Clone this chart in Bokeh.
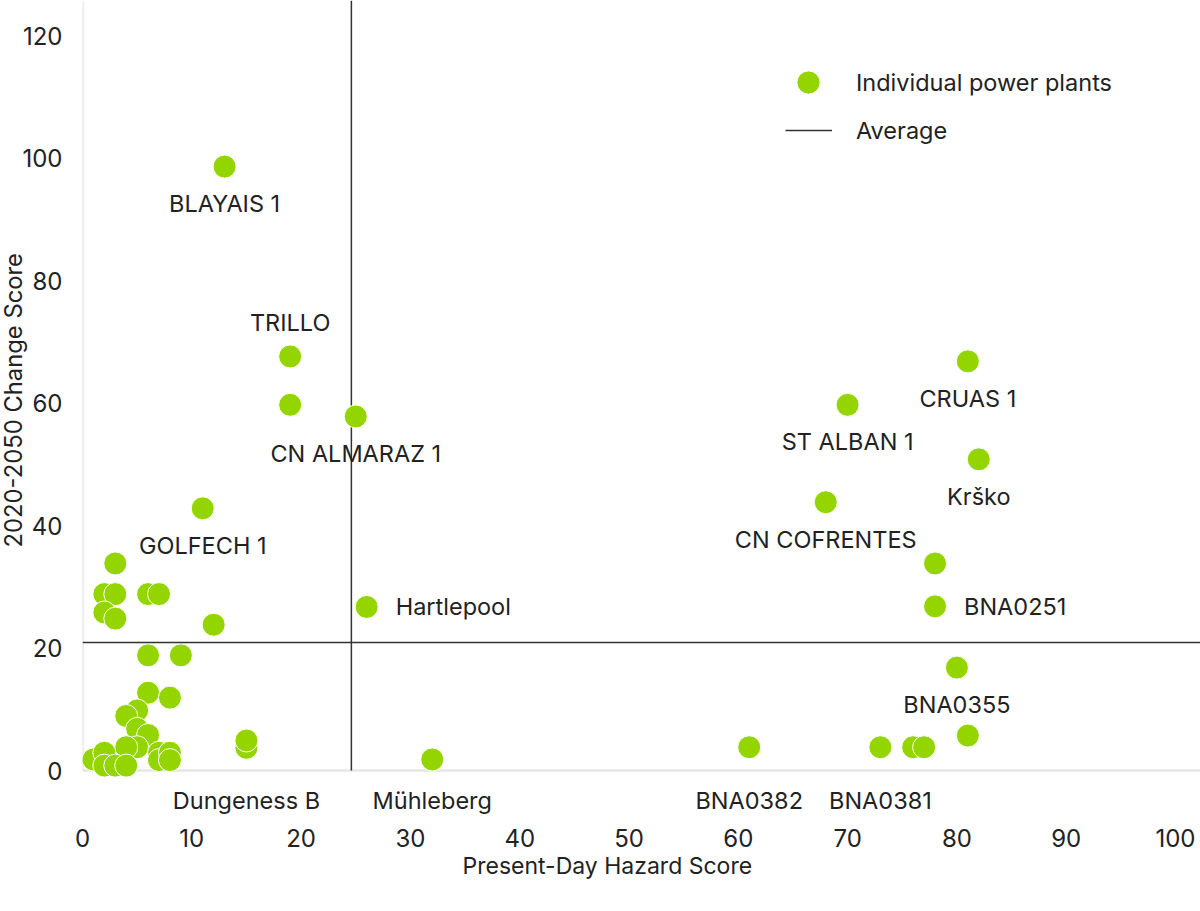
from bokeh.plotting import figure
from bokeh.models import (Range1d, Span, Label, Legend, LegendItem, Title,
                          ColumnDataSource, FixedTicker)
from bokeh.embed import file_html
from bokeh.resources import INLINE

# ---------------- data ----------------
hazard = [13, 19, 19, 25, 11, 26, 32, 15, 15,
          61, 73, 76, 77, 81, 80, 78, 78, 68, 82, 70, 81,
          3, 2, 3, 2, 3, 6, 7, 12, 6, 9, 6, 8, 5, 4, 5, 6, 5, 4,
          1, 2, 2, 3, 4, 7, 7, 8, 8]
change = [98.6, 67.6, 59.7, 57.8, 42.8, 26.7, 1.8, 3.7, 4.9,
          3.8, 3.8, 3.8, 3.8, 5.7, 16.8, 26.8, 33.8, 43.8, 50.8, 59.7, 66.8,
          33.8, 28.8, 28.8, 25.8, 24.8, 28.8, 28.8, 23.8, 18.8, 18.8, 12.7, 11.9,
          9.8, 8.9, 6.8, 5.8, 3.8, 3.8,
          1.8, 2.9, 0.8, 0.8, 0.8, 2.9, 1.7, 2.9, 1.7]

label_names = ["BLAYAIS 1", "TRILLO", "CN ALMARAZ 1", "GOLFECH 1", "Hartlepool",
               "Dungeness B", "Mühleberg", "BNA0382", "BNA0381", "BNA0355",
               "BNA0251", "CN COFRENTES", "Krško", "ST ALBAN 1", "CRUAS 1"]
label_x = [13, 19, 25, 11, 26, 15, 32, 61, 73, 80, 78, 68, 82, 70, 81]
label_y = [98.6, 67.6, 57.8, 42.8, 26.7, 3.7, 1.8, 3.8, 3.8, 16.8, 26.8, 43.8, 50.8, 59.7, 66.8]
label_pos = ["below", "above", "below", "below", "right",
             "axis", "axis", "axis", "axis", "below",
             "right", "below", "below", "below", "below"]

avg_hazard = 24.6
avg_change = 20.9

x_ticks = [0, 10, 20, 30, 40, 50, 60, 70, 80, 90, 100]
y_ticks = [0, 20, 40, 60, 80, 100, 120]

x_title = "Present-Day Hazard Score"
y_title = "2020-2050 Change Score"
legend_points = "Individual power plants"
legend_avg = "Average"

# ---------------- layout ----------------
FONT = "Inter"
GREEN = "#94d500"
TXT = "#222222"
AXIS_C = "#e6e6e6"
PPX = 10.93   # px per x unit
PPY = 6.125   # px per y unit
FRAME_W, FRAME_H = 1118, 820
X_MAX = FRAME_W / PPX
Y_MIN = -50 / PPY
Y_MAX = Y_MIN + FRAME_H / PPY

p = figure(width=1200, height=911, output_backend="svg", toolbar_location=None,
           x_range=Range1d(0, X_MAX), y_range=Range1d(Y_MIN, Y_MAX),
           min_border_left=82, min_border_right=0, min_border_top=0,
           min_border_bottom=91)
p.outline_line_color = None
p.xgrid.visible = False
p.ygrid.visible = False
p.background_fill_color = "white"

for ax in (p.xaxis[0], p.yaxis[0]):
    ax.axis_line_color = None
    ax.major_tick_line_color = None
    ax.minor_tick_line_color = None
    ax.major_label_text_font = FONT
    ax.major_label_text_font_size = "24px"
    ax.major_label_text_color = TXT
p.xaxis.ticker = FixedTicker(ticks=x_ticks)
p.yaxis.ticker = FixedTicker(ticks=y_ticks)
p.xaxis.major_label_standoff = 2
p.yaxis.major_label_standoff = 14

# axis lines (stop at zero as in the reference)
p.segment(x0=[0, 0], y0=[0, 0], x1=[X_MAX, 0], y1=[0, Y_MAX],
          line_color=AXIS_C, line_width=2.5)

# average lines
p.add_layout(Span(location=avg_change, dimension="width", line_color="#333333", line_width=1.5))
avg_line = p.line(x=[avg_hazard, avg_hazard], y=[0, Y_MAX],
                  line_color="#333333", line_width=1.5)

src = ColumnDataSource(dict(x=hazard, y=change))
pts = p.scatter("x", "y", source=src, size=23, fill_color=GREEN,
                line_color="white", line_width=1)

# annotations
for name, x, y, pos in zip(label_names, label_x, label_y, label_pos):
    kw = dict(text=name, text_font=FONT, text_font_size="23.5px", text_color=TXT,
              text_baseline="middle", text_align="center")
    if pos == "below":
        lab = Label(x=x, y=y - 37 / PPY, **kw)
    elif pos == "above":
        lab = Label(x=x, y=y + 34 / PPY, **kw)
    elif pos == "right":
        kw["text_align"] = "left"
        lab = Label(x=x + 29 / PPX, y=y, **kw)
    else:
        lab = Label(x=x, y=-30 / PPY, **kw)
    p.add_layout(lab)

# axis titles
p.add_layout(Title(text=x_title, align="left", offset=380, standoff=0,
                   text_font=FONT, text_font_size="23px", text_font_style="normal",
                   text_color=TXT), "below")
p.add_layout(Title(text=y_title, align="left", offset=273, standoff=-16,
                   text_font=FONT, text_font_size="23.8px", text_font_style="normal",
                   text_color=TXT), "left")

# legends
leg1 = Legend(items=[LegendItem(label=legend_points, renderers=[pts])],
              location=(697, 709), glyph_width=58, glyph_height=58,
              label_standoff=19, padding=0, margin=0, spacing=0,
              border_line_alpha=0, background_fill_alpha=0,
              label_text_font=FONT, label_text_font_size="23.5px",
              label_text_color=TXT)
leg2 = Legend(items=[LegendItem(label=legend_avg, renderers=[avg_line])],
              location=(703, 675), glyph_width=47, glyph_height=30,
              label_standoff=24, padding=0, margin=0, spacing=0,
              border_line_alpha=0, background_fill_alpha=0,
              label_text_font=FONT, label_text_font_size="23.5px",
              label_text_color=TXT)
p.add_layout(leg1, "center")
p.add_layout(leg2, "center")

open("out.html", "w").write(file_html(p, INLINE))
